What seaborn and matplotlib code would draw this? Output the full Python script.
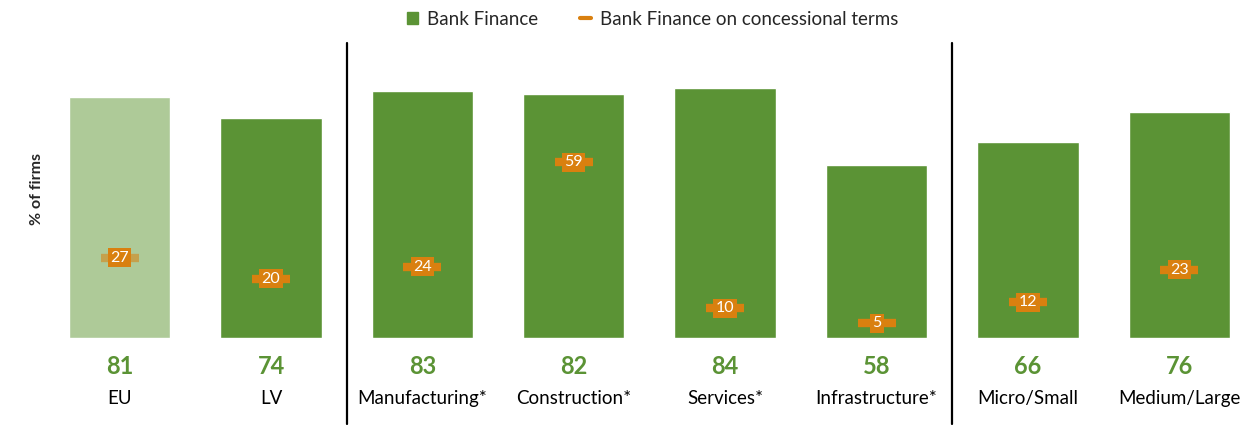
import matplotlib
matplotlib.use("Agg")
import matplotlib.pyplot as plt
import seaborn as sns
import pandas as pd
from matplotlib.lines import Line2D
from matplotlib.patches import Patch

categories = ["EU", "LV", "Manufacturing*", "Construction*", "Services*",
              "Infrastructure*", "Micro/Small", "Medium/Large"]
bank_finance = [81, 74, 83, 82, 84, 58, 66, 76]
concessional = [27, 20, 24, 59, 10, 5, 12, 23]

green = "#5B9335"
light_green = "#AECA98"
orange = "#D9800F"

sns.set_style("white")
plt.rcParams["font.family"] = ["Lato", "DejaVu Sans"]

df = pd.DataFrame({"cat": categories, "bank": bank_finance, "conc": concessional})
colors = [light_green] + [green] * (len(categories) - 1)

fig = plt.figure(figsize=(12.55, 4.25), dpi=100)
ax = fig.add_axes([0.035, 0.2047, 0.965, 0.7])

sns.barplot(data=df, x="cat", y="bank", hue="cat", palette=colors,
            legend=False, width=0.67, ax=ax, saturation=1)

# concessional markers
for i, v in enumerate(concessional):
    alpha = 0.55 if i == 0 else 1.0
    ax.scatter(i, v, marker="_", s=780, linewidths=6, color=orange,
               alpha=alpha, zorder=3)
    ax.text(i, v, str(v), ha="center", va="center", color="white",
            fontsize=11.5, zorder=4,
            bbox=dict(boxstyle="square,pad=0.15", fc=orange, ec="none"))

ax.set_ylim(0, 100)
ax.set_xlim(-0.5, len(categories) - 0.5)
ax.set_xticks([])
ax.set_yticks([])
ax.set_xlabel("")
ax.set_ylabel("% of firms", fontsize=11.5, fontweight="bold", labelpad=0)
for s in ax.spines.values():
    s.set_visible(False)

# value labels and category labels below the bars
for i, (c, v) in enumerate(zip(categories, bank_finance)):
    ax.text(i, -9.5, str(v), ha="center", va="center", color=green,
            fontsize=17, fontweight="bold", clip_on=False)
    ax.text(i, -20.5, c, ha="center", va="center", color="black",
            fontsize=13.5, clip_on=False)

# group separators
for xs in [1.5, 5.5]:
    ax.plot([xs, xs], [-29, 99], color="black", lw=1.6, clip_on=False)

handles = [Patch(color=green, label="Bank Finance"),
           Line2D([0], [0], color=orange, lw=3, label="Bank Finance on concessional terms")]
fig.legend(handles=handles, loc="upper center", bbox_to_anchor=(0.52, 1.015),
           ncol=2, frameon=False, fontsize=13.5, handlelength=0.6,
           handleheight=0.6, columnspacing=2.2, handletextpad=0.5)

fig.savefig("out.png", dpi=100)
